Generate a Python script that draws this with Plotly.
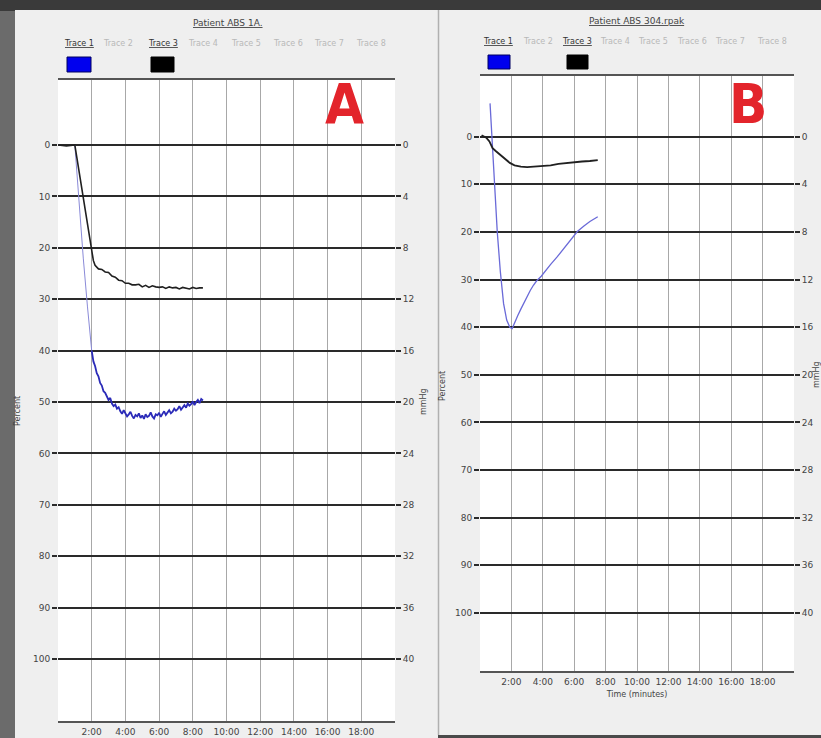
import plotly.graph_objects as go

W, H = 821, 738

# ---------------- data ----------------
x_tick_vals = [2, 4, 6, 8, 10, 12, 14, 16, 18]
x_tick_text = ["2:00", "4:00", "6:00", "8:00", "10:00", "12:00", "14:00", "16:00", "18:00"]
left_tick_vals = [0, 10, 20, 30, 40, 50, 60, 70, 80, 90, 100]
right_tick_vals = [0, 4, 8, 12, 16, 20, 24, 28, 32, 36, 40]
trace_names = ["Trace 1", "Trace 2", "Trace 3", "Trace 4", "Trace 5", "Trace 6", "Trace 7", "Trace 8"]

# Panel A
a_blue_drop_t = [1.0, 1.25, 1.5, 1.75, 2.0]
a_blue_drop_v = [0.0, 12.0, 22.0, 31.5, 40.0]
a_blue_t = [2.0, 2.1, 2.2, 2.3, 2.4, 2.5, 2.6, 2.7, 2.8, 2.9, 3.0, 3.1, 3.2, 3.3, 3.4, 3.5,
            3.6, 3.7, 3.8, 3.9, 4.0, 4.1, 4.2, 4.3, 4.4, 4.5, 4.6, 4.7, 4.8, 4.9, 5.0, 5.1,
            5.2, 5.3, 5.4, 5.5, 5.6, 5.7, 5.8, 5.9, 6.0, 6.1, 6.2, 6.3, 6.4, 6.5, 6.6, 6.7,
            6.8, 6.9, 7.0, 7.1, 7.2, 7.3, 7.4, 7.5, 7.6, 7.7, 7.8, 7.9, 8.0, 8.1, 8.2, 8.3,
            8.4, 8.5, 8.6]
a_blue_v = [40.0, 42.1, 43.0, 44.4, 45.0, 46.3, 46.8, 47.9, 48.2, 48.8, 49.6, 49.2, 50.3, 50.8,
            50.5, 51.3, 51.0, 51.8, 52.3, 51.6, 52.1, 52.8, 52.4, 51.9, 52.7, 53.2, 52.5, 52.8,
            52.2, 53.1, 52.6, 53.3, 52.4, 52.9, 52.7, 52.0, 52.8, 53.2, 52.4, 52.6, 52.1, 52.9,
            52.3, 51.8, 52.5, 52.0, 51.6, 52.2, 51.9, 51.3, 51.7, 51.4, 50.8, 51.5, 50.9, 50.6,
            51.1, 50.3, 50.7, 50.4, 49.9, 50.6, 50.0, 49.6, 50.2, 49.4, 49.7]
a_black_t = [0.0, 0.5, 1.0, 1.5, 1.9, 2.0, 2.1, 2.2, 2.4, 2.6, 2.8, 3.0, 3.2, 3.4, 3.6, 3.8, 4.0,
             4.2, 4.4, 4.6, 4.8, 5.0, 5.2, 5.4, 5.6, 5.8, 6.0, 6.2, 6.4, 6.6, 6.8, 7.0, 7.2,
             7.4, 7.6, 7.8, 8.0, 8.2, 8.4, 8.6]
a_black_v = [0.0, 0.2, 0.0, 10.0, 18.0, 20.5, 22.5, 23.4, 24.1, 24.2, 24.7, 24.8, 25.5, 25.7,
             26.3, 26.4, 26.9, 26.9, 27.2, 27.2, 27.1, 27.6, 27.3, 27.7, 27.4, 27.6, 27.7, 27.6,
             27.9, 27.6, 27.8, 27.7, 28.0, 27.7, 27.8, 28.0, 27.7, 27.9, 27.8, 27.8]

# Panel B
b_blue_t = [0.64, 0.8, 0.95, 1.1, 1.3, 1.5, 1.7, 1.9, 2.05, 2.2, 2.4, 2.6, 2.8, 3.0, 3.2, 3.4,
            3.6, 3.9, 4.2, 4.5, 4.9, 5.3, 5.7, 6.2, 6.6, 7.0, 7.5]
b_blue_v = [-7.0, 3.0, 12.0, 20.0, 28.5, 35.0, 38.5, 40.0, 40.3, 39.0, 37.6, 36.2, 34.8, 33.5,
            32.3, 31.2, 30.3, 29.3, 28.0, 26.8, 25.3, 23.7, 22.0, 19.9, 18.8, 17.8, 16.8]
b_black_t = [0.1, 0.4, 0.6, 0.8, 1.0, 1.3, 1.6, 1.9, 2.2, 2.6, 3.0, 3.5, 4.0, 4.5, 5.0, 5.5,
             6.0, 6.5, 7.0, 7.5]
b_black_v = [-0.3, 0.2, 1.0, 2.4, 3.0, 3.8, 4.6, 5.5, 6.0, 6.3, 6.4, 6.3, 6.2, 6.0, 5.7, 5.5,
             5.3, 5.2, 5.1, 4.9]


def px(x):
    return x / W


def py(y):
    return 1 - y / H


fig = go.Figure()

BLUE = "#2b2bb8"
fig.add_trace(go.Scatter(x=a_blue_drop_t, y=a_blue_drop_v, mode="lines", xaxis="x", yaxis="y",
                         line=dict(color="#8a8ad8", width=1), showlegend=False))
fig.add_trace(go.Scatter(x=a_blue_t, y=a_blue_v, mode="lines", xaxis="x", yaxis="y",
                         line=dict(color=BLUE, width=1.8), showlegend=False))
fig.add_trace(go.Scatter(x=a_black_t, y=a_black_v, mode="lines", xaxis="x", yaxis="y",
                         line=dict(color="#202020", width=1.6), showlegend=False))
fig.add_trace(go.Scatter(x=b_blue_t, y=b_blue_v, mode="lines", xaxis="x2", yaxis="y3",
                         line=dict(color="#6a6ad8", width=1.3), showlegend=False))
fig.add_trace(go.Scatter(x=b_black_t, y=b_black_v, mode="lines", xaxis="x2", yaxis="y3",
                         line=dict(color="#202020", width=1.8), showlegend=False))
# dummy traces so right axes render
fig.add_trace(go.Scatter(x=[None], y=[None], xaxis="x", yaxis="y2", showlegend=False))
fig.add_trace(go.Scatter(x=[None], y=[None], xaxis="x2", yaxis="y4", showlegend=False))

TICKFONT = dict(family="DejaVu Sans", size=9, color="#444")

A_X = [px(58), px(395)]
A_Y = [py(721), py(80)]
B_X = [px(480), px(794)]
B_Y = [py(671), py(76)]
A_RANGE = [112.06, -12.65]
B_RANGE = [112.2, -12.75]


def xaxis(domain, anchor, title=None):
    d = dict(domain=domain, anchor=anchor, range=[0, 20], tickvals=x_tick_vals,
             ticktext=x_tick_text, showgrid=True, gridcolor="#a8a8a8", gridwidth=1,
             zeroline=False, showline=True, linecolor="#555", linewidth=2, mirror=True,
             ticks="", tickfont=TICKFONT, ticklabelstandoff=1)
    if title:
        d["title"] = dict(text=title, font=dict(family="DejaVu Sans", size=8, color="#444"),
                          standoff=6)
    return d


def yleft(domain, anchor, rng):
    return dict(domain=domain, anchor=anchor, range=rng, tickvals=left_tick_vals,
                showgrid=True, gridcolor="#2a2a2a", gridwidth=1.6, zeroline=False,
                showline=False, ticks="outside", ticklen=5, tickcolor="#2a2a2a",
                tickwidth=1.6, tickfont=TICKFONT)


def yright(overlay, anchor, rng):
    return dict(overlaying=overlay, anchor=anchor, side="right",
                range=[rng[0] / 2.5, rng[1] / 2.5], tickvals=right_tick_vals,
                showgrid=False, zeroline=False, showline=False, ticks="outside",
                ticklen=5, tickcolor="#2a2a2a", tickwidth=1.6, tickfont=TICKFONT)


shapes = []


def rect(x0, x1, y0, y1, fill, line=None):
    d = dict(type="rect", xref="paper", yref="paper", x0=px(x0), x1=px(x1),
             y0=py(y1), y1=py(y0), fillcolor=fill, layer="below")
    if line:
        d["line"] = line
    else:
        d["line_width"] = 0
    shapes.append(d)


# background bands
rect(0, W, 0, 11, "#3a3a3a")
rect(0, 15, 11, H, "#6b6b6b")
rect(438, W, 735, H, "#4a4a4a")
# panels
rect(15, 438, 10, H, "#efefef")
rect(439, W, 10, 735, "#efefef")
shapes.append(dict(type="line", xref="paper", yref="paper", x0=px(438.5), x1=px(438.5),
                   y0=py(735), y1=py(10), line=dict(color="#b0b0b0", width=1.5), layer="below"))
# white plot areas
rect(58, 395, 80, 721, "#ffffff")
rect(480, 794, 76, 671, "#ffffff")
# legend colour boxes
rect(67, 91, 57, 72, "#0000ee", dict(color="#000060", width=1))
rect(151, 174, 57, 72, "#000000", dict(color="#000", width=1))
rect(488, 510, 55, 69, "#0000ee", dict(color="#000060", width=1))
rect(567, 588, 55, 69, "#000000", dict(color="#000", width=1))

annotations = []
SMALL = dict(family="DejaVu Sans", size=8, color="#444")


def txt(x, y, s, font=SMALL, angle=0):
    annotations.append(dict(x=px(x), y=py(y), xref="paper", yref="paper", text=s,
                            showarrow=False, font=font, textangle=angle,
                            xanchor="center", yanchor="middle"))


txt(228, 23, "<u>Patient ABS 1A.</u>", dict(family="DejaVu Sans", size=9, color="#444"))
txt(637, 21, "<u>Patient ABS 304.rpak</u>", dict(family="DejaVu Sans", size=9, color="#444"))

a_leg_x = [79, 118, 163, 203, 246, 288, 329, 371]
b_leg_x = [498, 538, 577, 615, 653, 692, 730, 772]
for i, name in enumerate(trace_names):
    active = i in (0, 2)
    f = dict(family="DejaVu Sans", size=8, color="#333" if active else "#b8b8b8")
    s = f"<u>{name}</u>" if active else name
    txt(a_leg_x[i], 43, s, f)
    txt(b_leg_x[i], 42, s, f)

txt(17, 411, "Percent", SMALL, -90)
txt(423, 402, "mmHg", SMALL, -90)
txt(443, 386, "Percent", SMALL, -90)
txt(816, 375, "mmHg", SMALL, -90)

RED = dict(family="Liberation Sans Narrow, DejaVu Sans Condensed, Liberation Sans", size=56,
           color="#e3242b")
annotations.append(dict(x=px(344), y=py(104), xref="paper", yref="paper", text="<b>A</b>",
                        showarrow=False, font=RED, xanchor="center", yanchor="middle"))
annotations.append(dict(x=px(748), y=py(104), xref="paper", yref="paper", text="<b>B</b>",
                        showarrow=False, font=RED, xanchor="center", yanchor="middle"))

fig.update_layout(
    width=W, height=H, margin=dict(l=0, r=0, t=0, b=0),
    paper_bgcolor="#575757", plot_bgcolor="#ffffff",
    xaxis=xaxis(A_X, "y"),
    yaxis=yleft(A_Y, "x", A_RANGE),
    yaxis2=yright("y", "x", A_RANGE),
    xaxis2=xaxis(B_X, "y3", "Time (minutes)"),
    yaxis3=yleft(B_Y, "x2", B_RANGE),
    yaxis4=yright("y3", "x2", B_RANGE),
    shapes=shapes, annotations=annotations, showlegend=False,
)

fig.write_html("out.html", config={"displayModeBar": False},
               post_script="document.body.style.margin='0';document.body.style.padding='0';"
                           "document.body.style.overflow='hidden';")
